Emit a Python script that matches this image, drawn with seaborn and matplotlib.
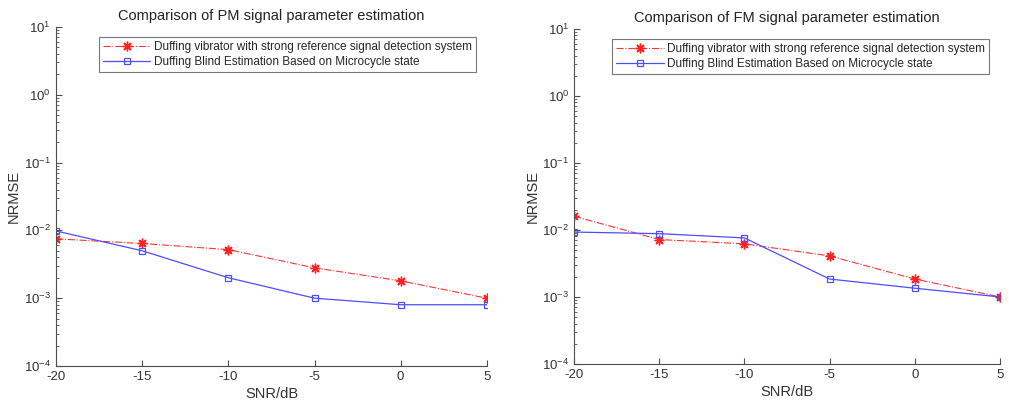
import numpy as np
import pandas as pd
import matplotlib
matplotlib.use("Agg")
import matplotlib.pyplot as plt
import seaborn as sns

# data
snr = [-20, -15, -10, -5, 0, 5]
pm_strong = [7.5e-3, 6.4e-3, 5.2e-3, 2.8e-3, 1.8e-3, 1.0e-3]
pm_blind = [9.8e-3, 5.0e-3, 2.0e-3, 1.0e-3, 8.0e-4, 8.0e-4]
fm_strong = [1.6e-2, 7.2e-3, 6.2e-3, 4.1e-3, 1.85e-3, 1.0e-3]
fm_blind = [9.3e-3, 8.8e-3, 7.6e-3, 1.85e-3, 1.35e-3, 1.0e-3]

label_strong = "Duffing vibrator with strong reference signal detection system"
label_blind = "Duffing Blind Estimation Based on Microcycle state"
titles = ["Comparison of PM signal parameter estimation",
          "Comparison of FM signal parameter estimation"]

sns.set_style("ticks")
plt.rcParams['font.family'] = ['Liberation Sans', 'DejaVu Sans']
plt.rcParams['xtick.direction'] = 'in'
plt.rcParams['ytick.direction'] = 'in'
plt.rcParams['axes.unicode_minus'] = False

axis_col = '#4d4d4d'
fig = plt.figure(figsize=(10.09, 4.08), dpi=100)
ax1 = fig.add_axes([0.0555, 0.103, 0.427, 0.831])
ax2 = fig.add_axes([0.569, 0.108, 0.422, 0.821])

panels = [(ax1, pm_strong, pm_blind), (ax2, fm_strong, fm_blind)]
for i, (ax, strong, blind) in enumerate(panels):
    df = pd.DataFrame({'SNR': snr + snr,
                       'NRMSE': strong + blind,
                       'method': [label_strong] * len(snr) + [label_blind] * len(snr)})
    sns.lineplot(data=df[df.method == label_strong], x='SNR', y='NRMSE', ax=ax,
                 color='#ff3333', linestyle='-.', lw=0.8, marker=(8, 2, 0), markersize=7,
                 markeredgecolor='#ff2020', markeredgewidth=1.0, label=label_strong)
    sns.lineplot(data=df[df.method == label_blind], x='SNR', y='NRMSE', ax=ax,
                 color='#4d4dff', linestyle='-', lw=0.9, marker='s', markersize=5,
                 markerfacecolor='none', markeredgecolor='#4d4dff', markeredgewidth=0.9,
                 label=label_blind)
    ax.set_yscale('log')
    ax.set_ylim(1e-4, 1e1)
    ax.set_xlim(-20, 5)
    ax.set_xticks(snr)
    ax.set_xlabel('SNR/dB', fontsize=10.5, color='#333333', labelpad=3)
    ax.set_ylabel('NRMSE', fontsize=10.5, color='#333333', labelpad=2)
    ax.set_title(titles[i], fontsize=10.5, color='#222222', pad=5)
    for s in ['top', 'right']:
        ax.spines[s].set_visible(False)
    for s in ['left', 'bottom']:
        ax.spines[s].set_color(axis_col)
        ax.spines[s].set_linewidth(0.8)
    ax.tick_params(axis='both', which='both', colors=axis_col, labelsize=9.5, labelcolor='#333333')
    ax.tick_params(axis='both', which='major', length=4)
    ax.tick_params(axis='y', which='minor', length=2)
    leg = ax.legend(loc='upper right', bbox_to_anchor=(0.975, 0.97), fontsize=8.5, frameon=True,
                    fancybox=False, handlelength=4.0, borderpad=0.35, labelspacing=0.25,
                    handletextpad=0.3, borderaxespad=0)
    leg.get_frame().set_edgecolor('#555555')
    leg.get_frame().set_linewidth(0.8)

fig.savefig('out.png', dpi=100)
